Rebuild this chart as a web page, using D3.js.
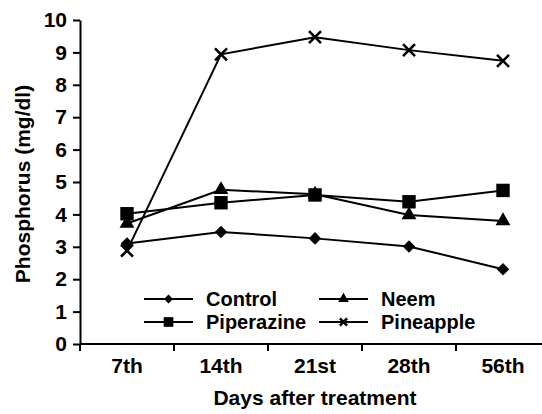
<!DOCTYPE html>
<html lang="en">
<head>
  <meta charset="UTF-8">
  <title>Phosphorus</title>
  <style>
    body{ margin: 0; background: #fff; }
    svg{ display: block; font-family: "Liberation Sans", Arial, sans-serif; }
    .axis text{ font-size: 21px; font-weight: bold; fill: #000; }
    .axis path, .axis line{ stroke: #000; stroke-width: 2px; }
  </style>
</head>
<body>
<svg width="542" height="414"></svg>

<script src="https://cdn.jsdelivr.net/npm/d3@7"></script>
<script>
  // data
  var days = ['7th', '14th', '21st', '28th', '56th'];
  var control = [3.1, 3.46, 3.26, 3.01, 2.31];
  var piperazine = [4.02, 4.36, 4.6, 4.39, 4.74];
  var neem = [3.72, 4.76, 4.62, 3.98, 3.8];
  var pineapple = [2.88, 8.94, 9.47, 9.07, 8.74];
  var yTicks = [0, 1, 2, 3, 4, 5, 6, 7, 8, 9, 10];

  var series = [
    {name: 'Control', values: control, symbol: d3.symbolDiamond2, size: 100},
    {name: 'Piperazine', values: piperazine, symbol: d3.symbolSquare, size: 180},
    {name: 'Neem', values: neem, symbol: d3.symbolTriangle, size: 95},
    {name: 'Pineapple', values: pineapple, symbol: 'x', size: 6}
  ];

  var marge = {top: 20, left: 80};
  var svg = d3.select('svg');
  var plotBottom = 344, plotRight = 550;

  var x = d3.scaleBand().domain(days).range([marge.left, plotRight]);
  var y = d3.scaleLinear().domain([0, 10]).range([plotBottom, marge.top]);

  // y axis
  svg.append('g').attr('class', 'axis')
    .attr('transform', `translate(${marge.left}, 0)`)
    .call(d3.axisLeft(y).tickValues(yTicks).tickSize(7).tickPadding(6).tickSizeOuter(0));

  // x axis, labels only, ticks drawn at the band edges
  var gx = svg.append('g').attr('class', 'axis')
    .attr('transform', `translate(0, ${plotBottom})`)
    .call(d3.axisBottom(x).tickSize(0).tickPadding(14).tickSizeOuter(0));
  gx.select('.domain').attr('d', `M${marge.left},0H${plotRight}`);
  var edges = days.map(function (d) { return x(d); }).concat([plotRight]);
  gx.selectAll('.edge').data(edges).enter().append('line').attr('class', 'edge')
    .attr('x1', function (d) { return d; }).attr('x2', function (d) { return d; })
    .attr('y1', 0).attr('y2', 7);

  // axis titles
  svg.append('text').attr('x', (marge.left + plotRight) / 2).attr('y', 405)
    .attr('text-anchor', 'middle').style('font-size', '21px').style('font-weight', 'bold')
    .text('Days after treatment');
  svg.append('text').attr('transform', `translate(30, ${(plotBottom + marge.top) / 2 + 2}) rotate(-90)`)
    .attr('text-anchor', 'middle').style('font-size', '21px').style('font-weight', 'bold')
    .text('Phosphorus (mg/dl)');

  function drawMarker(g, s, k) {
    if (s.symbol === 'x') {
      var r = s.size * k;
      g.append('path').attr('d', `M${-r},${-r}L${r},${r}M${-r},${r}L${r},${-r}`)
        .attr('stroke', '#000').attr('stroke-width', 2.6).attr('fill', 'none');
    } else {
      g.append('path').attr('d', d3.symbol().type(s.symbol).size(s.size * k * k)()).attr('fill', '#000');
    }
  }

  var line = d3.line()
    .x(function (d, i) { return x(days[i]) + x.bandwidth() / 2; })
    .y(function (d) { return y(d); });

  // lines first, then markers
  series.forEach(function (s) {
    svg.append('path').attr('d', line(s.values))
      .attr('fill', 'none').attr('stroke', '#000').attr('stroke-width', 2);
  });
  series.forEach(function (s) {
    s.values.forEach(function (v, i) {
      var g = svg.append('g')
        .attr('transform', `translate(${x(days[i]) + x.bandwidth() / 2}, ${y(v)})`);
      drawMarker(g, s, 1);
    });
  });

  // legend, two columns
  var legendPos = [[144, 299], [144, 322], [319, 299], [319, 322]];
  series.forEach(function (s, i) {
    var g = svg.append('g').attr('transform', `translate(${legendPos[i][0]}, ${legendPos[i][1]})`);
    g.append('line').attr('x1', 0).attr('x2', 49).attr('y1', 0).attr('y2', 0)
      .attr('stroke', '#000').attr('stroke-width', 2);
    var m = g.append('g').attr('transform', 'translate(24.5, 0)');
    drawMarker(m, s, s.symbol === 'x' ? 0.6 : 0.72);
    g.append('text').attr('x', 62).attr('y', 0).attr('dy', '0.35em')
      .style('font-size', '20px').style('font-weight', 'bold').text(s.name);
  });
</script>
</body>
</html>
